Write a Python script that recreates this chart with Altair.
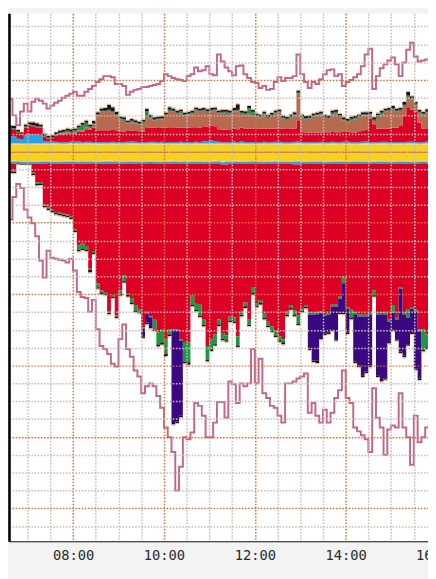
import altair as alt
import pandas as pd

# ---- time grid (minutes after midnight, 5-minute steps) ----
START_MIN = 395
STEP_MIN = 5

# ---- upper (positive) stack, from zero outward ----
YELLOW_UP = [36,37,38,37,36,36,37,38,37,38, 37,38,38,37,36,37,38,38,37,36,
             37,38,38,37,37,36,37,38,38,37, 36,37,38,38,37,37,36,37,38,37,
             38,37,36,37,38,38,37,36,37,38, 38,37,36,37,37,38,37,36,37,38,
             37,38,38,37,36,37,37,38,37,36, 37,38,37,36,37,38,38,37,36,37,
             38,37,37,36,37,38,37,36,37,38, 37,36,37,38,38,37,36,37,38,37,
             36,37,38,37,36,37,38,37,36,37, 38,37]
TAN_UP = [8,9,8,7,8,9,8,8,7,8, 8,9,8,8,7,8,9,8,8,8, 9,8,7,8,8,9,8,8,7,8,
          8,9,8,8,8,7,8,9,8,8, 8,8,9,8,7,8,8,9,8,8, 7,8,8,9,8,8,7,8,8,9,
          8,8,7,8,9,8,8,8,7,8, 9,8,8,7,8,8,9,8,8,8, 7,8,9,8,8,8,7,8,9,8,
          8,7,8,8,9,8,8,7,8,9, 8,8,7,8,8,9,8,8,7,8, 9,8]
CYAN_UP = [40,40,25,25,45,50,50,50,45,12, 10,8,8,8,8,8,8,8,10,8,
           8,8,8,8,8,8,8,8,8,8, 8,8,10,8,8,8,8,8,8,8,
           8,8,8,8,8,8,8,8,8,8, 8,12,14,16,14,8,8,8,8,8,
           8,12,8,8,8,8,8,8,8,8, 8,8,8,8,8,8,8,8,8,8,
           8,8,8,8,8,8,8,8,8,10, 8,8,8,8,8,8,8,8,8,8,
           8,8,8,8,8,8,8,8,8,8, 8,8]
RED_UP = [42,39,32,23,45,49,46,40,45,25, 16,19,36,43,45,49,43,47,58,60,
          71,66,81,66,66,66,66,66,66,60, 60,60,60,60,60,60,80,80,80,78,
          80,80,82,82,80,80,80,80,82,82, 80,80,80,82,82,70,70,70,72,72,
          72,75,75,75,75,75,75,75,75,75, 75,75,75,75,75,75,120,55,52,52,
          50,52,52,52,50,55,55,55,55,55, 55,55,60,60,65,130,100,75,75,75,
          75,80,80,90,150,190,180,170,110,75, 75,75]
BROWN = [0,0,0,0,0,0,0,0,0,0, 0,0,0,4,5,5,5,5,5,5,
         10,8,15,81,103,103,108,97,81,65, 59,43,48,43,37,48,67,50,39,47,
         45,67,92,87,78,78,67,72,76,92, 89,89,78,81,87,88,93,88,86,97,
         100,77,72,88,72,66,61,77,61,72, 83,88,55,50,61,72,148,81,73,78,
         91,95,100,84,80,97,108,86,64,53, 64,75,76,87,82,22,19,61,77,94,
         99,100,89,84,52,61,55,37,53,77, 88,88]
GREEN_UP = [4,4,6,4,4,4,4,4,4,4, 4,4,4,4,6,8,8,10,15,30,
            25,10,8,5,5,5,5,5,5,5, 8,5,5,5,5,5,25,8,5,5,
            5,5,5,5,5,10,5,5,5,5, 5,5,8,5,5,5,5,10,5,5,
            5,5,12,25,20,5,5,5,5,5, 5,5,5,5,5,5,5,5,8,5,
            5,5,5,5,5,10,5,5,5,5, 10,5,5,5,5,5,5,12,10,5,
            5,8,5,5,5,5,5,5,5,5, 5,5]
PURPLE_UP = [3,3,3,3,3,3,3,3,3,3, 3,3,3,3,3,3,3,3,3,3, 3,3,3,4,4,4,4,3,3,3,
             3,3,3,3,3,3,3,3,3,3, 3,3,4,4,3,3,3,3,3,3, 3,3,3,3,3,3,3,3,3,3,
             4,3,3,3,3,3,3,3,3,3, 3,3,3,3,3,3,3,3,3,3, 3,3,3,3,3,3,3,3,3,3,
             3,3,3,3,3,3,3,3,3,3, 3,3,3,3,3,3,3,3,3,3, 3,3]
BLACK_UP = [12,10,8,8,10,12,15,15,10,10, 8,10,10,10,10,10,10,10,10,10,
            10,10,12,10,10,12,25,22,15,10, 10,8,10,10,10,10,12,10,10,10,
            10,10,12,10,10,10,10,10,10,10, 10,10,10,10,10,10,10,10,10,12,
            30,10,10,10,10,10,10,10,10,10, 10,10,10,10,10,10,10,10,10,10,
            10,10,10,10,10,10,10,10,10,10, 10,10,10,10,10,10,12,10,10,10,
            10,10,10,10,15,20,12,10,10,10, 10,10]
PEACH_UP = [6,6,6,5,6,6,6,6,6,6, 6,6,5,6,6,6,6,6,6,6, 6,6,6,6,6,5,6,6,6,6,
            6,6,6,6,6,6,6,6,5,6, 6,6,6,6,6,6,6,6,6,6, 6,5,6,6,6,6,6,6,6,6,
            6,6,6,6,6,6,6,5,6,6, 6,6,6,6,6,6,6,6,6,6, 6,6,6,5,6,6,6,6,6,6,
            6,6,6,6,6,6,6,6,6,5, 6,6,6,6,6,6,6,6,6,6, 6,6]

# ---- lower (negative) stack, from zero outward ----
MAUVE_DN = [-9,-9,-8,-9,-9,-10,-9,-9,-8,-9, -9,-9,-9,-10,-9,-9,-8,-9,-9,-9,
            -9,-10,-9,-9,-9,-8,-9,-9,-9,-9, -10,-9,-9,-9,-8,-9,-9,-9,-9,-10,
            -9,-9,-8,-9,-9,-9,-9,-10,-9,-9, -9,-8,-9,-9,-9,-9,-10,-9,-9,-9,
            -8,-9,-9,-9,-9,-10,-9,-9,-9,-8, -9,-9,-9,-9,-10,-9,-9,-9,-8,-9,
            -9,-9,-9,-10,-9,-9,-9,-8,-9,-9, -9,-9,-10,-9,-9,-9,-8,-9,-9,-9,
            -9,-10,-9,-9,-9,-8,-9,-9,-9,-9, -10,-9]
YELLOW_DN = [-44,-43,-45,-44,-44,-43,-44,-45,-44,-44, -43,-44,-45,-44,-44,-43,-44,-44,-45,-44,
             -44,-43,-44,-45,-44,-44,-43,-44,-44,-45, -44,-44,-43,-44,-45,-44,-44,-43,-44,-44,
             -45,-44,-44,-43,-44,-45,-44,-44,-43,-44, -44,-45,-44,-44,-43,-44,-45,-44,-44,-43,
             -44,-44,-45,-44,-44,-43,-44,-45,-44,-44, -43,-44,-44,-45,-44,-44,-43,-44,-45,-44,
             -44,-43,-44,-44,-45,-44,-44,-43,-44,-45, -44,-44,-43,-44,-44,-45,-44,-44,-43,-44,
             -45,-44,-44,-43,-44,-44,-45,-44,-44,-43, -44,-45]
TAN_DN = [-5,-5,-4,-5,-5,-5,-6,-5,-5,-5, -4,-5,-5,-5,-5,-6,-5,-5,-5,-4, -5,-5,-5,-5,-6,-5,-5,-5,-4,-5,
          -5,-5,-5,-6,-5,-5,-5,-4,-5,-5, -5,-5,-6,-5,-5,-5,-4,-5,-5,-5, -5,-6,-5,-5,-5,-4,-5,-5,-5,-5,
          -6,-5,-5,-5,-4,-5,-5,-5,-5,-6, -5,-5,-5,-4,-5,-5,-5,-5,-6,-5, -5,-5,-4,-5,-5,-5,-5,-6,-5,-5,
          -5,-4,-5,-5,-5,-5,-6,-5,-5,-5, -4,-5,-5,-5,-5,-6,-5,-5,-5,-4, -5,-5]
CYAN_DN = [-10,-12,-8,-8,-8,-8,-10,-10,-10,-10, -10,-10,-10,-10,-10,-10,-10,-10,-10,-10,
           -10,-10,-10,-10,-10,-10,-10,-10,-10,-10, -10,-10,-10,-10,-10,-10,-10,-10,-10,-10,
           -10,-10,-10,-10,-10,-10,-10,-10,-10,-10, -10,-10,-10,-10,-10,-10,-16,-15,-10,-10,
           -10,-10,-10,-10,-10,-10,-10,-10,-10,-10, -10,-10,-10,-10,-10,-15,-16,-10,-10,-10,
           -10,-10,-10,-10,-10,-10,-10,-10,-10,-10, -10,-10,-10,-10,-10,-10,-10,-10,-10,-10,
           -10,-10,-10,-10,-10,-10,-10,-10,-10,-10, -10,-10]
RED_DN = [-38,-38,-2,-2,-2,-2,-50,-104,-104,-231,
          -248,-259,-270,-275,-281,-286,-297,-369,-457,-451,
          -462,-589,-490,-671,-710,-721,-831,-737,-853,-710,
          -627,-726,-754,-792,-820,-919,-836,-858,-875,-946,
          -930,-985,-930,-930,-930,-985,-1001,-1001,-737,-781,
          -792,-875,-1023,-985,-957,-875,-941,-957,-858,-864,
          -968,-831,-776,-875,-693,-781,-765,-836,-886,-913,
          -941,-968,-985,-831,-792,-820,-847,-809,-792,-836,
          -836,-836,-830,-842,-836,-792,-792,-748,-638,-803,
          -820,-836,-847,-847,-847,-836,-710,-836,-836,-836,
          -875,-792,-864,-693,-836,-820,-803,-820,-930,-930,
          -957,-930]
GREEN_DN = [-6,-6,-1,-1,-1,-1,-6,-8,-8,-5, -5,-5,-5,-5,-5,-5,-5,-5,-25,-25,
            -20,-5,-8,-20,-10,-8,-5,-8,-5,-20, -30,-10,-25,-30,-10,-5,-5,-5,-55,-66,
            -71,-82,-27,-5,-5,-8,-110,-110,-55,-38, -60,-27,-77,-55,-55,-27,-33,-27,-22,-22,
            -50,-16,-22,-27,-33,-16,-16,-27,-22,-22, -22,-22,-16,-16,-16,-22,-44,-16,-10,-10,
            -10,-10,-10,-10,-10,-10,-10,-10,-33,-10, -44,-10,-10,-10,-10,-10,-27,-10,-10,-10,
            -10,-44,-10,-10,-10,-44,-10,-10,-10,-115, -71,-66]
PURPLE_DN = [-1,-1,-1,-1,-1,-1,-1,-1,-1,-1, -1,-1,-1,-1,-1,-1,-1,-1,-1,-1,
             -1,-1,-1,-1,-1,-1,-1,-1,-1,-1, -1,-1,-1,-1,-1,-45,-50,-55,-1,-1,
             -1,-1,-1,-520,-510,-420,-1,-1,-1,-1, -1,-1,-1,-1,-1,-1,-1,-1,-1,-1,
             -1,-1,-1,-1,-1,-1,-1,-1,-1,-1, -1,-1,-1,-1,-1,-1,-1,-1,-1,-190,
             -258,-258,-138,-99,-99,-127,-182,-77,-165,-132, -1,-264,-275,-330,-308,-286,-1,-341,-368,-357,
             -115,-94,-110,-352,-231,-148,-132,-319,-264,-1, -1,-1]
BLACK_DN = [-8,-8,-4,-4,-4,-4,-8,-9,-9,-9, -9,-9,-9,-9,-9,-9,-9,-9,-9,-9,
            -9,-15,-9,-9,-9,-9,-9,-9,-9,-9, -9,-9,-9,-9,-9,-9,-9,-9,-9,-12,
            -12,-12,-9,-9,-9,-9,-9,-15,-9,-9, -9,-9,-9,-9,-9,-9,-9,-9,-9,-9,
            -9,-9,-9,-9,-9,-9,-9,-9,-9,-9, -9,-9,-12,-9,-9,-9,-9,-9,-9,-9,
            -9,-15,-9,-9,-9,-9,-9,-9,-9,-9, -9,-9,-9,-9,-9,-9,-9,-9,-9,-9,
            -9,-9,-9,-9,-9,-9,-9,-9,-9,-9, -9,-9]
PEACH_DN = [-6,-6,-4,-4,-4,-4,-6,-6,-6,-6, -6,-6,-6,-6,-6,-6,-6,-6,-6,-6,
            -6,-6,-6,-6,-6,-6,-6,-6,-6,-6, -6,-6,-6,-6,-6,-6,-6,-6,-6,-6,
            -6,-6,-6,-6,-6,-6,-6,-6,-6,-6, -6,-6,-6,-6,-6,-6,-6,-6,-6,-6,
            -6,-6,-6,-6,-6,-6,-6,-6,-6,-6, -6,-6,-6,-6,-6,-6,-6,-6,-6,-6,
            -6,-6,-6,-6,-6,-6,-6,-6,-6,-6, -6,-6,-6,-6,-6,-6,-6,-6,-6,-6,
            -6,-6,-6,-6,-6,-6,-6,-6,-6,-6, -6,-6]

# ---- envelope lines ----
PINK_UP = [295,202,147,224,268,224,279,295,284,268, 240,257,273,284,301,312,323,334,312,312,
           334,350,367,389,405,422,422,416,378,378, 367,317,334,345,350,361,361,367,372,378,
           394,433,422,411,405,400,394,422,433,471, 449,455,477,433,427,543,504,471,449,427,
           477,482,433,411,389,383,356,367,345,350, 389,416,394,411,411,422,543,433,389,356,
           389,378,405,433,455,460,422,433,367,389, 400,416,433,477,543,576,350,422,466,488,
           510,526,488,422,499,570,609,532,504,510, 515,515]
PINK_DN = [-381,-255,-183,-205,-326,-370,-403,-475,-612,-706,
           -557,-596,-601,-607,-612,-623,-601,-667,-788,-816,
           -821,-898,-832,-997,-1090,-1107,-1135,-1190,-1206,-1052,
           -970,-1107,-1151,-1228,-1261,-1355,-1316,-1300,-1316,-1371,
           -1437,-1547,-1602,-1685,-1900,-1767,-1602,-1613,-1575,-1410,
           -1426,-1481,-1602,-1602,-1520,-1404,-1404,-1492,-1289,-1305,
           -1410,-1300,-1316,-1300,-1107,-1300,-1162,-1355,-1382,-1426,
           -1437,-1481,-1520,-1300,-1300,-1289,-1273,-1261,-1245,-1465,
           -1410,-1481,-1520,-1448,-1520,-1465,-1382,-1338,-1228,-1382,
           -1410,-1547,-1569,-1591,-1613,-1685,-1327,-1492,-1547,-1701,
           -1558,-1536,-1547,-1355,-1547,-1602,-1756,-1481,-1630,-1602,
           -1547,-1547]

STACK = [
    ("yellow_up", YELLOW_UP, "#f6d21a"), ("tan_up", TAN_UP, "#ecc890"),
    ("cyan_up", CYAN_UP, "#1ea6e6"), ("red_up", RED_UP, "#de0024"),
    ("brown", BROWN, "#b86a50"), ("green_up", GREEN_UP, "#1a9a40"),
    ("purple_up", PURPLE_UP, "#3a0880"), ("black_up", BLACK_UP, "#141414"),
    ("peach_up", PEACH_UP, "#f6b888"),
    ("mauve_dn", MAUVE_DN, "#c98aa8"), ("yellow_dn", YELLOW_DN, "#f6d21a"),
    ("tan_dn", TAN_DN, "#ecc890"), ("cyan_dn", CYAN_DN, "#1ea6e6"),
    ("red_dn", RED_DN, "#de0024"), ("green_dn", GREEN_DN, "#1a9a40"),
    ("purple_dn", PURPLE_DN, "#3a0880"), ("black_dn", BLACK_DN, "#141414"),
    ("peach_dn", PEACH_DN, "#f6b888"),
]

rows = []
for order, (name, vals, _c) in enumerate(STACK):
    for k, v in enumerate(vals):
        rows.append({"t": START_MIN + STEP_MIN * k, "series": name, "order": order, "v": v})
stack_df = pd.DataFrame(rows)

line_rows = []
for name, vals in (("pink_up", PINK_UP), ("pink_dn", PINK_DN)):
    for k, v in enumerate(vals):
        line_rows.append({"t": START_MIN + STEP_MIN * k, "series": name, "v": v})
line_df = pd.DataFrame(line_rows)

W, H = 427, 538
X_DOMAIN = [395.4, 948.7]
Y_DOMAIN = [-2185, 774]
MAJOR = "#d5743e"
MINOR = "#c9bcb8"

x_scale = alt.Scale(domain=X_DOMAIN, nice=False, zero=False)
y_scale = alt.Scale(domain=Y_DOMAIN, nice=False, zero=False)

x_axis = alt.Axis(
    values=list(range(420, 931, 30)), tickCount=200, title=None, ticks=False, tickSize=0,
    labelExpr="datum.value % 120 === 0 ? (datum.value < 600 ? '0' : '') + floor(datum.value / 60) + ':00' : ''",
    labelFont="DejaVu Sans Mono", labelFontSize=14, labelColor="#2a2a2a", labelPadding=8,
    domainColor="#111111", domainWidth=1.2,
    gridColor={"condition": {"test": "datum.value % 120 === 0", "value": MAJOR}, "value": MINOR},
    gridDash=[1.6, 1.6], gridWidth=1.5, zindex=1,
)
y_axis = alt.Axis(
    values=list(range(-2100, 701, 100)), tickCount=200, title=None, labels=False, ticks=False,
    domainColor="#000000", domainWidth=2.6,
    gridColor={"condition": {"test": "datum.value % 400 === 0", "value": MAJOR}, "value": MINOR},
    gridDash=[1.6, 1.6], gridWidth=1.5, zindex=1,
)

areas = alt.Chart(stack_df).transform_stack(
    stack="v", as_=["v0", "v1"], groupby=["t"],
    sort=[alt.SortField("order", order="ascending")], offset="zero",
).mark_area(interpolate="step-after", clip=True).encode(
    x=alt.X("t:Q", scale=x_scale, axis=x_axis),
    y=alt.Y("v0:Q", scale=y_scale, axis=y_axis),
    y2="v1:Q",
    color=alt.Color("series:N", legend=None,
                    scale=alt.Scale(domain=[s[0] for s in STACK], range=[s[2] for s in STACK])),
)

lines = alt.Chart(line_df).mark_line(
    interpolate="step-after", clip=True, strokeWidth=2, color="#c4668a"
).encode(
    x=alt.X("t:Q", scale=x_scale),
    y=alt.Y("v:Q", scale=y_scale),
    detail="series:N",
)

edge_label = alt.Chart(alt.Data(values=[{"t": 960, "label": "16:00"}])).mark_text(
    font="DejaVu Sans Mono", fontSize=14, color="#2a2a2a", baseline="top", align="center"
).encode(
    x=alt.X("t:Q", scale=x_scale),
    y=alt.value(H + 8),
    text="label:N",
)

chart = alt.layer(areas, lines, edge_label).properties(
    width=W, height=H,
    autosize=alt.AutoSizeParams(type="none"),
    padding={"left": 1, "top": 0, "right": 0, "bottom": 33},
    background="#f3f3f3",
).configure_view(fill="white", stroke="transparent")

chart.save("out.html", embed_options={"renderer": "svg", "actions": False})
